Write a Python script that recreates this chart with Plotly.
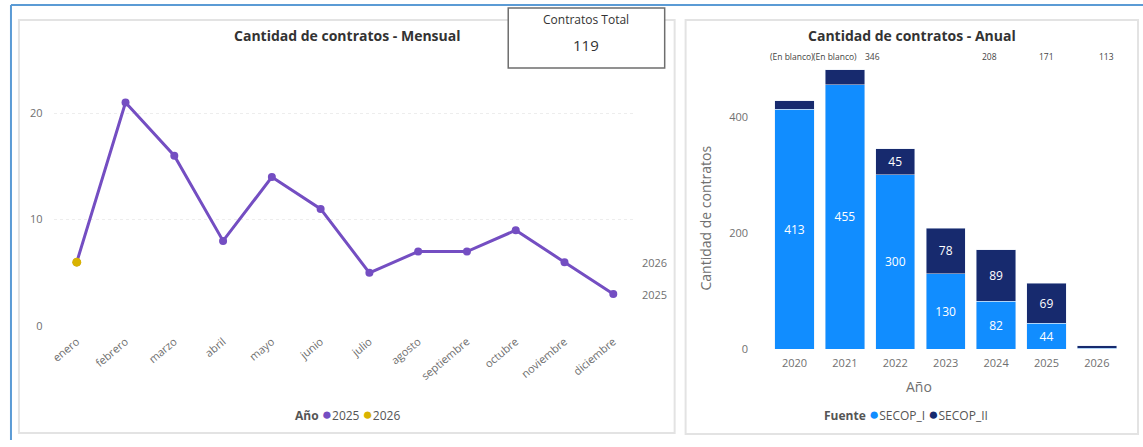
import plotly.graph_objects as go

# alto visible real de la ventana (la captura deja ~7px en blanco abajo)
W, H = 1143, 440

# datos
meses = ["enero", "febrero", "marzo", "abril", "mayo", "junio", "julio",
         "agosto", "septiembre", "octubre", "noviembre", "diciembre"]
contratos_2025 = [6, 21, 16, 8, 14, 11, 5, 7, 7, 9, 6, 3]
meses_2026 = ["enero"]
contratos_2026 = [6]

anios = ["2020", "2021", "2022", "2023", "2024", "2025", "2026"]
secop_i = [413, 455, 300, 130, 82, 44, 1]
secop_ii = [15, 26, 45, 78, 89, 69, 5]
etiq_i = ["413", "455", "300", "130", "82", "44", ""]
etiq_ii = ["", "", "45", "78", "89", "69", ""]
totales = ["(En blanco)", "(En blanco)", "346", "208", "171", "113"]
pos_totales = [-0.04, 0.8, 1.54, 3.86, 5.0, 6.2]

contratos_total = 119

C_2025 = "#744EC2"
C_2026 = "#D9B300"
C_SI = "#118DFF"
C_SII = "#172A6E"
GRIS = "#707070"
FONT = "Open Sans"


def px_x(v):
    return v / W


def px_y(v):
    return 1 - v / H


fig = go.Figure()

# --- mensual ---
fig.add_trace(go.Scatter(x=meses, y=contratos_2025, mode="lines+markers",
                         line=dict(color=C_2025, width=3), marker=dict(size=8, color=C_2025),
                         xaxis="x", yaxis="y", showlegend=False))
fig.add_trace(go.Scatter(x=meses_2026, y=contratos_2026, mode="markers",
                         marker=dict(size=9, color=C_2026),
                         xaxis="x", yaxis="y", showlegend=False))

# --- anual ---
fig.add_trace(go.Bar(x=anios, y=secop_i, marker_color=C_SI, text=etiq_i,
                     textposition="inside", insidetextanchor="middle",
                     textfont=dict(color="white", size=12, family=FONT),
                     xaxis="x2", yaxis="y2", showlegend=False))
fig.add_trace(go.Bar(x=anios, y=secop_ii, marker_color=C_SII, text=etiq_ii,
                     textposition="inside", insidetextanchor="middle",
                     textfont=dict(color="white", size=12, family=FONT),
                     xaxis="x2", yaxis="y2", showlegend=False))

ejes = dict(showline=False, zeroline=False, tickfont=dict(color=GRIS, size=11, family=FONT))

fig.update_layout(
    autosize=True, margin=dict(l=0, r=0, t=0, b=0),
    paper_bgcolor="white", plot_bgcolor="white",
    font=dict(family=FONT, color=GRIS),
    barmode="stack", bargap=0.22, showlegend=False,
    xaxis=dict(domain=[px_x(50), px_x(631)], range=[-0.47, 11.4], anchor="y",
               showgrid=False, tickangle=-40, ticks="outside", ticklen=4,
               tickcolor="white", **ejes),
    yaxis=dict(domain=[px_y(326), px_y(60)], range=[0, 25], anchor="x",
               tickvals=[0, 10, 20], showgrid=True, gridcolor="#EDEDED",
               griddash="dot", ticks="outside", ticklen=8, tickcolor="white", **ejes),
    xaxis2=dict(domain=[px_x(768), px_x(1122)], range=[-0.5, 6.5], anchor="y2",
                showgrid=False, ticks="outside", ticklen=4, tickcolor="white", **ejes),
    yaxis2=dict(domain=[px_y(349), px_y(50)], range=[0, 515], anchor="x2",
                tickvals=[0, 200, 400], showgrid=False, ticks="outside",
                ticklen=18, tickcolor="white", **ejes),
)

shapes = [
    # marco azul exterior
    dict(type="line", xref="paper", yref="paper", x0=px_x(7), x1=1, y0=px_y(5), y1=px_y(5),
         line=dict(color="#5B9BD5", width=2)),
    dict(type="line", xref="paper", yref="paper", x0=px_x(7), x1=px_x(7), y0=px_y(5), y1=0,
         line=dict(color="#5B9BD5", width=2)),
    # paneles
    dict(type="rect", xref="paper", yref="paper", x0=px_x(15), x1=px_x(673),
         y0=px_y(433), y1=px_y(20), line=dict(color="#E3E3E3", width=2), layer="below"),
    dict(type="rect", xref="paper", yref="paper", x0=px_x(684), x1=px_x(1138),
         y0=px_y(434), y1=px_y(20), line=dict(color="#E3E3E3", width=2), layer="below"),
    # tarjeta
    dict(type="rect", xref="paper", yref="paper", x0=px_x(506), x1=px_x(663),
         y0=px_y(68), y1=px_y(8), line=dict(color="#6E6E6E", width=1.5),
         fillcolor="white", layer="above"),
]
fig.update_layout(shapes=shapes)

punto = "<span style='color:%s;font-size:17px'>●</span>"
ley_anio = "<b>Año</b> " + punto % C_2025 + "2025 " + punto % C_2026 + "2026"
ley_fuente = "<b>Fuente</b> " + punto % C_SI + "SECOP_I " + punto % C_SII + "SECOP_II"

ann = [
    dict(text="<b>Cantidad de contratos - Mensual</b>", x=px_x(345), y=px_y(35),
         font=dict(size=14, color="#333333")),
    dict(text="<b>Cantidad de contratos - Anual</b>", x=px_x(911), y=px_y(35),
         font=dict(size=14, color="#333333")),
    dict(text="Contratos Total", x=px_x(584), y=px_y(19), font=dict(size=12, color="#333333")),
    dict(text=str(contratos_total), x=px_x(584), y=px_y(45), font=dict(size=15, color="#333333")),
    dict(text="Cantidad de contratos", x=px_x(703), y=px_y(218), textangle=-90,
         font=dict(size=14, color=GRIS)),
    dict(text="Año", x=px_x(918), y=px_y(386), font=dict(size=14, color=GRIS)),
    dict(text=ley_anio, x=px_x(345), y=px_y(413), font=dict(size=12, color="#555555")),
    dict(text=ley_fuente, x=px_x(905), y=px_y(413), font=dict(size=12, color="#555555")),
]
for a in ann:
    a.update(xref="paper", yref="paper", showarrow=False, xanchor="center", yanchor="middle")
    fig.add_annotation(**a)

# etiquetas de serie al final de la línea
fig.add_annotation(text="2026", xref="paper", yref="y", x=px_x(638), y=contratos_2026[-1],
                   xanchor="left", yanchor="middle", showarrow=False,
                   font=dict(size=11, color=GRIS))
fig.add_annotation(text="2025", xref="paper", yref="y", x=px_x(638), y=contratos_2025[-1],
                   xanchor="left", yanchor="middle", showarrow=False,
                   font=dict(size=11, color=GRIS))

# totales sobre las barras
for t, p in zip(totales, pos_totales):
    fig.add_annotation(text=t, xref="x2", yref="paper", x=p, y=px_y(57), showarrow=False,
                       xanchor="center", yanchor="middle",
                       font=dict(size=8.5, color="#444444"))

fig.write_html("out.html", config={"displayModeBar": False},
               default_width="100vw", default_height="100vh",
               post_script="document.body.style.margin='0';document.body.style.overflow='hidden';")
